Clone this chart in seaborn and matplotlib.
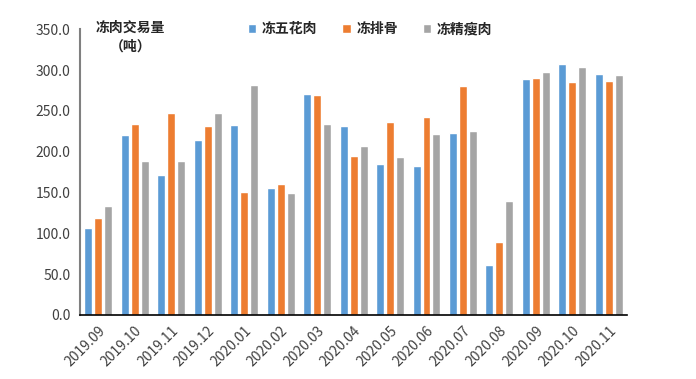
import matplotlib
matplotlib.use('Agg')
import matplotlib.pyplot as plt
import pandas as pd
import seaborn as sns
import numpy as np

months = ['2019.09', '2019.10', '2019.11', '2019.12', '2020.01', '2020.02', '2020.03',
          '2020.04', '2020.05', '2020.06', '2020.07', '2020.08', '2020.09', '2020.10', '2020.11']
series_names = ['冻五花肉', '冻排骨', '冻精瘦肉']
pork_belly = [106, 220, 172, 214, 233, 155, 271, 232, 185, 182, 223, 61, 289, 307, 295]
spare_ribs = [119, 234, 247, 232, 151, 160, 270, 195, 236, 243, 280, 89, 290, 285, 287]
lean_meat = [133, 188, 189, 247, 282, 149, 234, 207, 193, 222, 225, 139, 298, 304, 294]
colors = ['#5B9BD5', '#ED7D31', '#A5A5A5']

df = pd.DataFrame({'month': months * 3,
                   'series': [s for s in series_names for _ in months],
                   'value': pork_belly + spare_ribs + lean_meat})

sns.set_style('white')
plt.rcParams['font.family'] = ['Noto Sans CJK SC', 'DejaVu Sans']

fig = plt.figure(figsize=(6.96, 3.79), dpi=100)
ax = fig.add_axes([0.115, 0.169, 0.786, 0.754])

sns.barplot(data=df, x='month', y='value', hue='series', hue_order=series_names,
            order=months, palette=colors, width=0.82, saturation=1, ax=ax)

# leave a small gap between bars like the original
for p in ax.patches:
    w = p.get_width()
    if w > 0:
        p.set_x(p.get_x() + w * 0.1)
        p.set_width(w * 0.8)

ax.set_xlim(-0.5, len(months) - 0.5)
ax.set_ylim(0, 350)
ax.set_yticks(np.arange(0, 351, 50))
ax.set_yticklabels([f'{v:.1f}' for v in np.arange(0, 351, 50)], fontsize=10, color='#404040')
ax.set_xticks(range(len(months)))
ax.set_xticklabels(months, rotation=45, ha='right', rotation_mode='anchor',
                   fontsize=10, color='#404040')
ax.set_xticks(np.arange(-0.5, len(months)), minor=True)
ax.tick_params(axis='x', which='major', length=0, pad=6)
ax.tick_params(axis='x', which='minor', length=5, width=1, color='black', direction='out')
ax.tick_params(axis='y', length=4, width=1, color='#808080', direction='out', pad=3)
ax.set_xlabel('')
ax.set_ylabel('')

for s in ['top', 'right']:
    ax.spines[s].set_visible(False)
ax.spines['left'].set_color('#808080')
ax.spines['left'].set_linewidth(1.5)
ax.spines['bottom'].set_color('black')
ax.spines['bottom'].set_linewidth(1.2)

ax.legend(loc='center', bbox_to_anchor=(0.53, 1.0), ncol=3, frameon=False,
          handlelength=0.6, handleheight=0.6, columnspacing=1.8,
          handletextpad=0.4, prop={'weight': 'bold', 'size': 10})

fig.text(0.187, 0.928, '冻肉交易量', fontsize=10, weight='bold', ha='center', va='center')
fig.text(0.187, 0.878, '（吨）', fontsize=10, weight='bold', ha='center', va='center')

fig.savefig('out.png', dpi=100)
